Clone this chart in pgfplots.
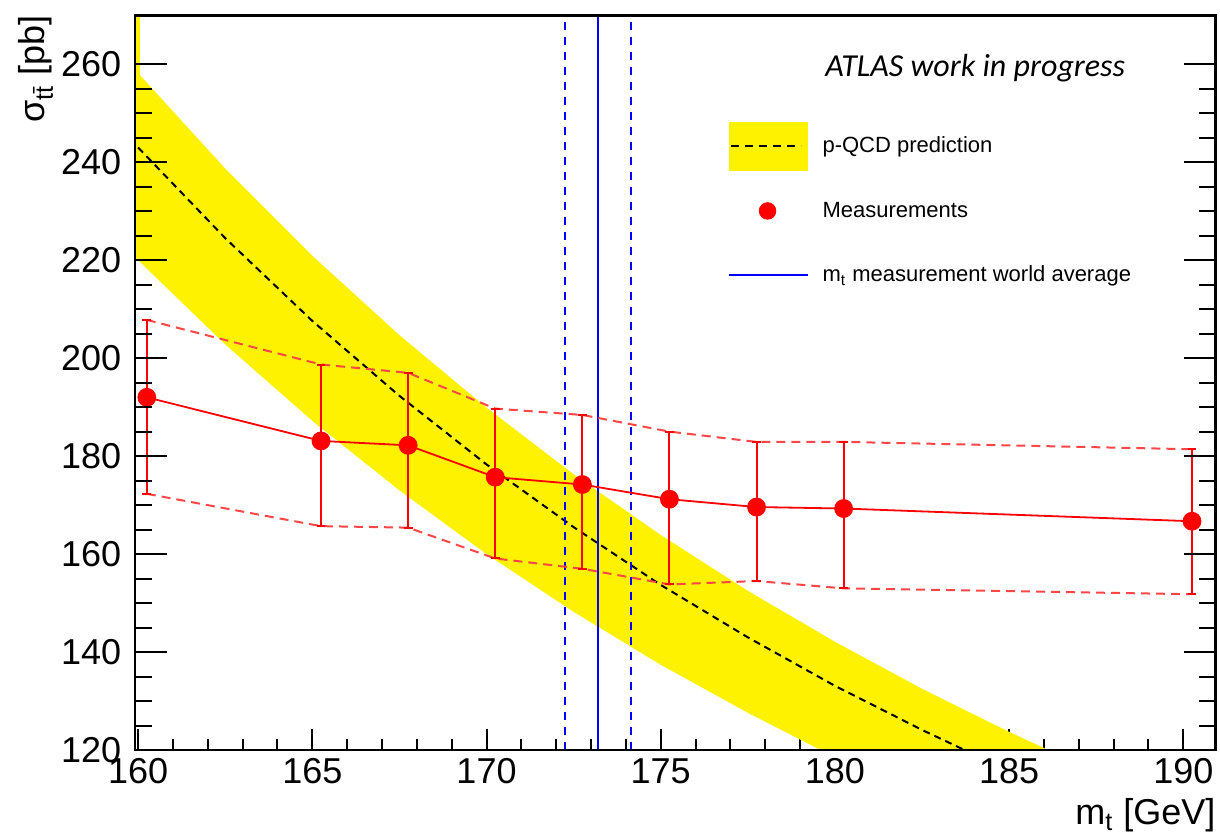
\documentclass[border=0pt]{standalone}
\usepackage{fontspec}
\setmainfont{Liberation Sans}
\newfontfamily\carlito{Carlito}
\usepackage{pgfplots}
\pgfplotsset{compat=1.18}
\definecolor{envred}{RGB}{255,70,70}
\begin{document}
\begin{tikzpicture}
\pgfplotsset{
 common/.style={
  scale only axis, width=540.35pt, height=367.35pt,
  xmin=159.91, xmax=190.93, ymin=120, ymax=270,
  axis line style={line width=1.3pt, black},
  tick style={line width=1pt, black},
  tick align=inside,
  /pgf/number format/assume math mode=true,
  ticklabel style={font=\fontsize{18}{18}\selectfont},
 }
}
\begin{axis}[common, name=A,
  xtick={160,165,...,190}, minor x tick num=4, xtick pos=left,
  ytick=\empty,
  major tick length=10.5pt, minor tick length=5.5pt,
  xticklabel style={inner sep=0pt, anchor=north, yshift=-4pt},
  legend style={at={(0.5483,0.8544)}, anchor=north west, draw=none, fill=none,
    inner sep=0pt, outer sep=0pt, row sep=8.05pt, column sep=7pt,
    font=\fontsize{11}{11}\selectfont, nodes={inner sep=0pt}},
  legend cell align=left]
% p-QCD band
\addplot[fill=yellow, draw=none, forget plot] table {
159.8 280
160.05 280
160.05 257.8
162.5 238.7
165 220.9
167.5 204.7
170 189.9
172.5 176.3
175 163.9
177.5 152.5
180 142.1
182.5 132.5
185 123.7
187.5 115.5
182.5 110.3
180 118.5
177.5 127.6
175 137.4
172.5 148.2
170 160.0
167.5 173.0
165 187.2
162.5 202.8
160 220.0
159.8 221.4
};
% central prediction
\addplot[black, line width=1pt, dash pattern=on 3.5pt off 2.5pt, forget plot] table {
160 243.0
162.5 224.5
165 207.6
167.5 192.3
170 178.3
172.5 165.5
175 153.7
177.5 143.0
180 133.1
182.5 124.1
185 115.7
};
% world average
\addplot[blue, line width=1pt, forget plot] coordinates {(173.2,120) (173.2,270)};
\addplot[blue, line width=1pt, dash pattern=on 4pt off 3.5pt, forget plot] coordinates {(172.25,120) (172.25,270)};
\addplot[blue, line width=1pt, dash pattern=on 4pt off 3.5pt, forget plot] coordinates {(174.15,120) (174.15,270)};
% envelopes
\addplot[envred, line width=1pt, dash pattern=on 4.5pt off 3pt, forget plot] table {
160.25 207.8
165.25 198.7
167.75 197.0
170.25 189.7
172.75 188.4
175.25 185.0
177.75 182.9
180.25 182.9
190.25 181.4
};
\addplot[envred, line width=1pt, dash pattern=on 4.5pt off 3pt, forget plot] table {
160.25 172.3
165.25 165.7
167.75 165.4
170.25 159.1
172.75 157.0
175.25 153.8
177.75 154.5
180.25 153.0
190.25 151.8
};
% measurements
\addplot[red, line width=0.9pt, mark=*, mark size=4.25pt, mark options={solid, fill=red, draw=red}, forget plot,
  error bars/.cd, y dir=both, y explicit,
  error bar style={line width=1pt, red},
  error mark options={rotate=90, line width=1pt, mark size=2.2pt, red}]
  table[x=x, y=y, y error plus=ep, y error minus=em] {
x y ep em
160.25 192.0 15.8 19.7
165.25 183.1 15.6 17.4
167.75 182.2 14.8 16.8
170.25 175.7 14.0 16.6
172.75 174.2 14.2 17.2
175.25 171.2 13.8 17.4
177.75 169.6 13.3 15.1
180.25 169.3 13.6 16.3
190.25 166.7 14.7 14.9
};
% legend
\addlegendimage{legend image code/.code={
  \path[fill=yellow, draw=none] (0pt,-12.1pt) rectangle (39.5pt,12.1pt);
  \path[draw=black, line width=1pt, dash pattern=on 4pt off 3pt] (1pt,0pt) -- (36pt,0pt);}}
\addlegendentry{p-QCD prediction}
\addlegendimage{legend image code/.code={
  \path[draw=none, fill=none] (0pt,-12.1pt) rectangle (39.5pt,12.1pt);
  \path[draw=red, mark=*, mark size=4.15pt, mark options={fill=red, draw=red}] plot coordinates {(19.5pt,0pt)};}}
\addlegendentry{Measurements}
\addlegendimage{legend image code/.code={
  \path[draw=none, fill=none] (0pt,-12.1pt) rectangle (39.5pt,12.1pt);
  \path[draw=blue, line width=1pt] (0pt,0pt) -- (39.5pt,0pt);}}
\addlegendentry{m\textsubscript{t} measurement world average}
% annotation
\node[anchor=base west, inner sep=0pt, font=\carlito\itshape\fontsize{16}{16}\selectfont]
  at (rel axis cs:0.6385,0.9164) {ATLAS work in progress};
\end{axis}
\begin{axis}[common,
  xtick=\empty,
  ytick={120,140,...,260}, minor y tick num=3, ytick pos=both, yticklabel pos=left,
  major tick length=16pt, minor tick length=8.5pt,
  yticklabel style={inner sep=0pt, anchor=east, xshift=-6.7pt}]
\end{axis}
\node[rotate=90, anchor=base east, inner sep=0pt, font=\fontsize{18}{18}\selectfont]
  at (-45pt,367.35pt) {σ\textsubscript{t\=t} [pb]};
\node[anchor=base east, inner sep=0pt, font=\fontsize{18}{18}\selectfont]
  at (540.35pt,-37.5pt) {m\textsubscript{t} [GeV]};
\pgfresetboundingbox
\path (-67.5pt,-41.5pt) rectangle (542.5pt,375pt);
\end{tikzpicture}
\end{document}
